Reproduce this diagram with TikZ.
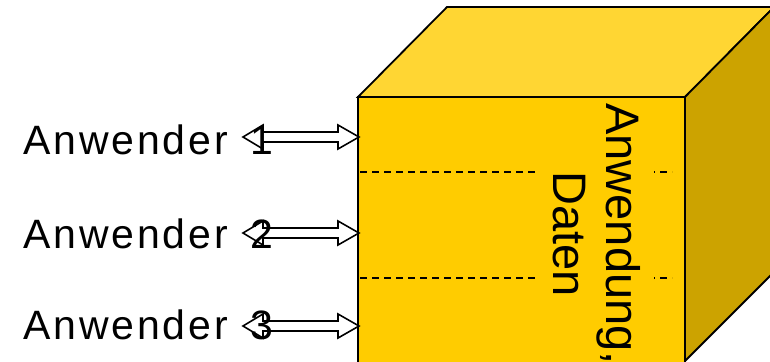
\documentclass[tikz,border=0pt]{standalone}
\usepackage{fontspec}
\setmainfont{Liberation Sans}
\newfontfamily\userfont[LetterSpace=7]{Liberation Sans}
\usetikzlibrary{calc}
\definecolor{frontcol}{HTML}{FFCC00}
\definecolor{topcol}{HTML}{FFD633}
\definecolor{sidecol}{HTML}{CCA300}

% hollow double-headed arrow between two named points
\newcommand\hollowlink[2]{%
  \draw[link] (#1) -- ($(#1)+(20,-12)$) -- ($(#1)+(20,-5)$)
    -- ($(#2)+(-21,-5)$) -- ($(#2)+(-21,-12)$) -- (#2)
    -- ($(#2)+(-21,12)$) -- ($(#2)+(-21,5)$)
    -- ($(#1)+(20,5)$) -- ($(#1)+(20,12)$) -- cycle;}

\begin{document}
\begin{tikzpicture}[x=1pt,y=-1pt,
  face/.style={draw=black, line width=1.8pt, line join=miter},
  userlabel/.style={anchor=base west, inner sep=0pt, font=\userfont\fontsize{41}{41}\selectfont},
  sep/.style={dash pattern=on 7pt off 5pt, line width=1.4pt},
  link/.style={draw=black, line width=1.6pt, line join=miter},
  storelabel/.style={rotate=-90, fill=frontcol, align=center, inner xsep=2pt, inner ysep=13pt,
    font=\fontsize{47}{53}\selectfont}
]
\useasboundingbox (0,0) rectangle (770,361);

% cube corners
\coordinate (ftl) at (358,97);
\coordinate (ftr) at (685,97);
\coordinate (fbr) at (685,361);
\coordinate (fbl) at (358,361);
\coordinate (btl) at (447,7);
\coordinate (btr) at (774,7);
\coordinate (bbr) at (774,272);

\begin{scope}
  \clip (0,0) rectangle (770,361);
  \filldraw[face, fill=topcol] (ftl) -- (btl) -- (btr) -- (ftr) -- cycle;
  \filldraw[face, fill=sidecol] (ftr) -- (btr) -- (bbr) -- (fbr) -- cycle;
  \filldraw[face, fill=frontcol] (fbl) -- (ftl) -- (ftr) -- ($(fbr)+(0,3)$) -- ($(fbl)+(0,3)$) -- cycle;
\end{scope}

% layer separators inside the cube
\coordinate (s1l) at (360,172);
\coordinate (s1r) at (672,172);
\coordinate (s2l) at (360,278);
\coordinate (s2r) at (672,278);
\draw[sep] (s1l) -- (s1r);
\draw[sep] (s2l) -- (s2r);

\node[storelabel] (store) at (597,234) {Anwendung,\\Daten};

% users
\node[userlabel] (u1) at (23,154) {Anwender\hspace{0.2em} 1};
\node[userlabel] (u2) at (23,248) {Anwender\hspace{0.2em} 2};
\node[userlabel] (u3) at (23,339) {Anwender\hspace{0.2em} 3};

% access arrows
\coordinate (t1) at (243,137);
\coordinate (p1) at (359,137);
\coordinate (t2) at (243,233);
\coordinate (p2) at (359,233);
\coordinate (t3) at (243,326);
\coordinate (p3) at (359,326);
\hollowlink{t1}{p1}
\hollowlink{t2}{p2}
\hollowlink{t3}{p3}
\end{tikzpicture}
\end{document}
